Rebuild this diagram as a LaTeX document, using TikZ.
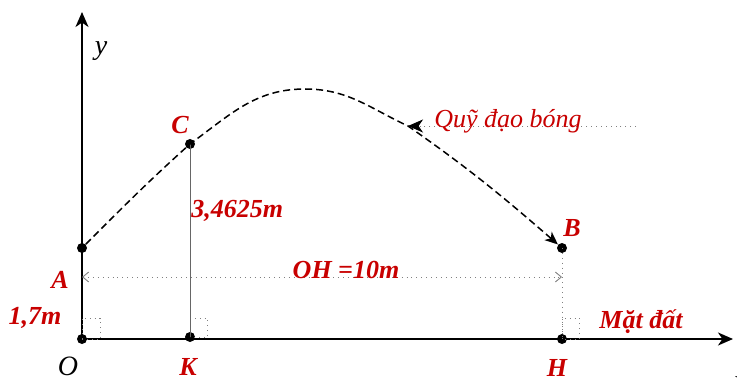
\documentclass[tikz,border=0pt]{standalone}
\usepackage{fontspec}
\setmainfont{Liberation Serif}
\usepackage{xcolor}
\usetikzlibrary{arrows.meta}
\definecolor{lblred}{RGB}{200,0,0}

\begin{document}
\begin{tikzpicture}[x=0.5pt, y=0.5pt, font=\fontsize{13}{15}\selectfont]
\tikzset{
  pnt/.style  ={circle, fill=black, inner sep=0pt, minimum size=5pt},
  lbl/.style  ={text=lblred, font=\fontsize{13}{15}\selectfont\bfseries\itshape, inner sep=0pt},
  var/.style  ={font=\fontsize{14}{16}\selectfont\itshape, inner sep=0pt},
  axis/.style ={-{Stealth[length=7.5pt,width=6.5pt,inset=2.2pt]}, line width=1pt},
  traj/.style ={dashed, dash pattern=on 3.5pt off 2pt, line width=0.75pt},
  guide/.style={dotted, draw=gray, line width=0.45pt},
  sq/.style   ={dotted, draw=gray, line width=0.4pt}
}
\useasboundingbox (0,0) rectangle (737,380);
% points
\node (O)[pnt] at (82,41) {};
\node (A)[pnt] at (82,132) {};
\node (C)[pnt] at (190,236) {};
\node (K)[pnt] at (190,43) {};
\node (B)[pnt] at (562,132) {};
\node (H)[pnt] at (562,41) {};
\coordinate (yend) at (82,368);
\coordinate (xend) at (733,41);
\coordinate (top) at (305,291);
\coordinate (mid) at (408,254);
\coordinate (qend) at (636,254);
\coordinate (ohL) at (82,103);
\coordinate (ohR) at (562,103);
% axes
\draw[axis] (O.center) -- (yend);
\draw[axis] (O.center) -- (xend);
% right angles
\draw[sq] (O.center) rectangle ++(18,21);
\draw[sq] (K.center) rectangle ++(17,19);
\draw[sq] (H.center) rectangle ++(17,21);
% heights and distance
\draw[draw=gray!80!black, line width=0.45pt] (C.center) -- (K.center);
\draw[guide] (B.center) -- (H.center);
\draw[guide, {Straight Barb[length=3pt,width=5pt]}-{Straight Barb[length=3pt,width=5pt]}] (ohL) -- (ohR);
% trajectory
\draw[traj, -{Stealth[length=6.5pt,width=5.5pt,inset=1.8pt]}] (A) to[out=45,in=222] (C.center)
  to[out=36,in=180] (top) to[out=0,in=155] (mid) to[out=-35,in=139] (B);
\draw[guide, -{Stealth[length=7.5pt,width=6.5pt,inset=2.2pt,black]}] (qend) -- (mid);
% labels
\node (lblQ)[text=lblred, font=\fontsize{13}{15}\selectfont\itshape, inner sep=0pt, anchor=base west] at (434,252) {Quỹ đạo bóng};
\node (lblY)[var] at (101,329) {y};
\node (lblO)[var] at (68,14) {O};
\node (lblX)[var] at (740,-3) {x};
\node (lblC)[lbl] at (180,255) {C};
\node (lblCK)[lbl, anchor=west] at (191,169) {3,4625m};
\node (lblOH)[lbl] at (346,110) {OH =10m};
\node (lblA)[lbl] at (60,100) {A};
\node (lblH17)[lbl] at (35,62) {1,7m};
\node (lblK)[lbl] at (188,13) {K};
\node (lblH)[lbl] at (557,12) {H};
\node (lblB)[lbl] at (572,152) {B};
\node (lblG)[lbl] at (641,58) {Mặt đất};
\end{tikzpicture}
\end{document}
